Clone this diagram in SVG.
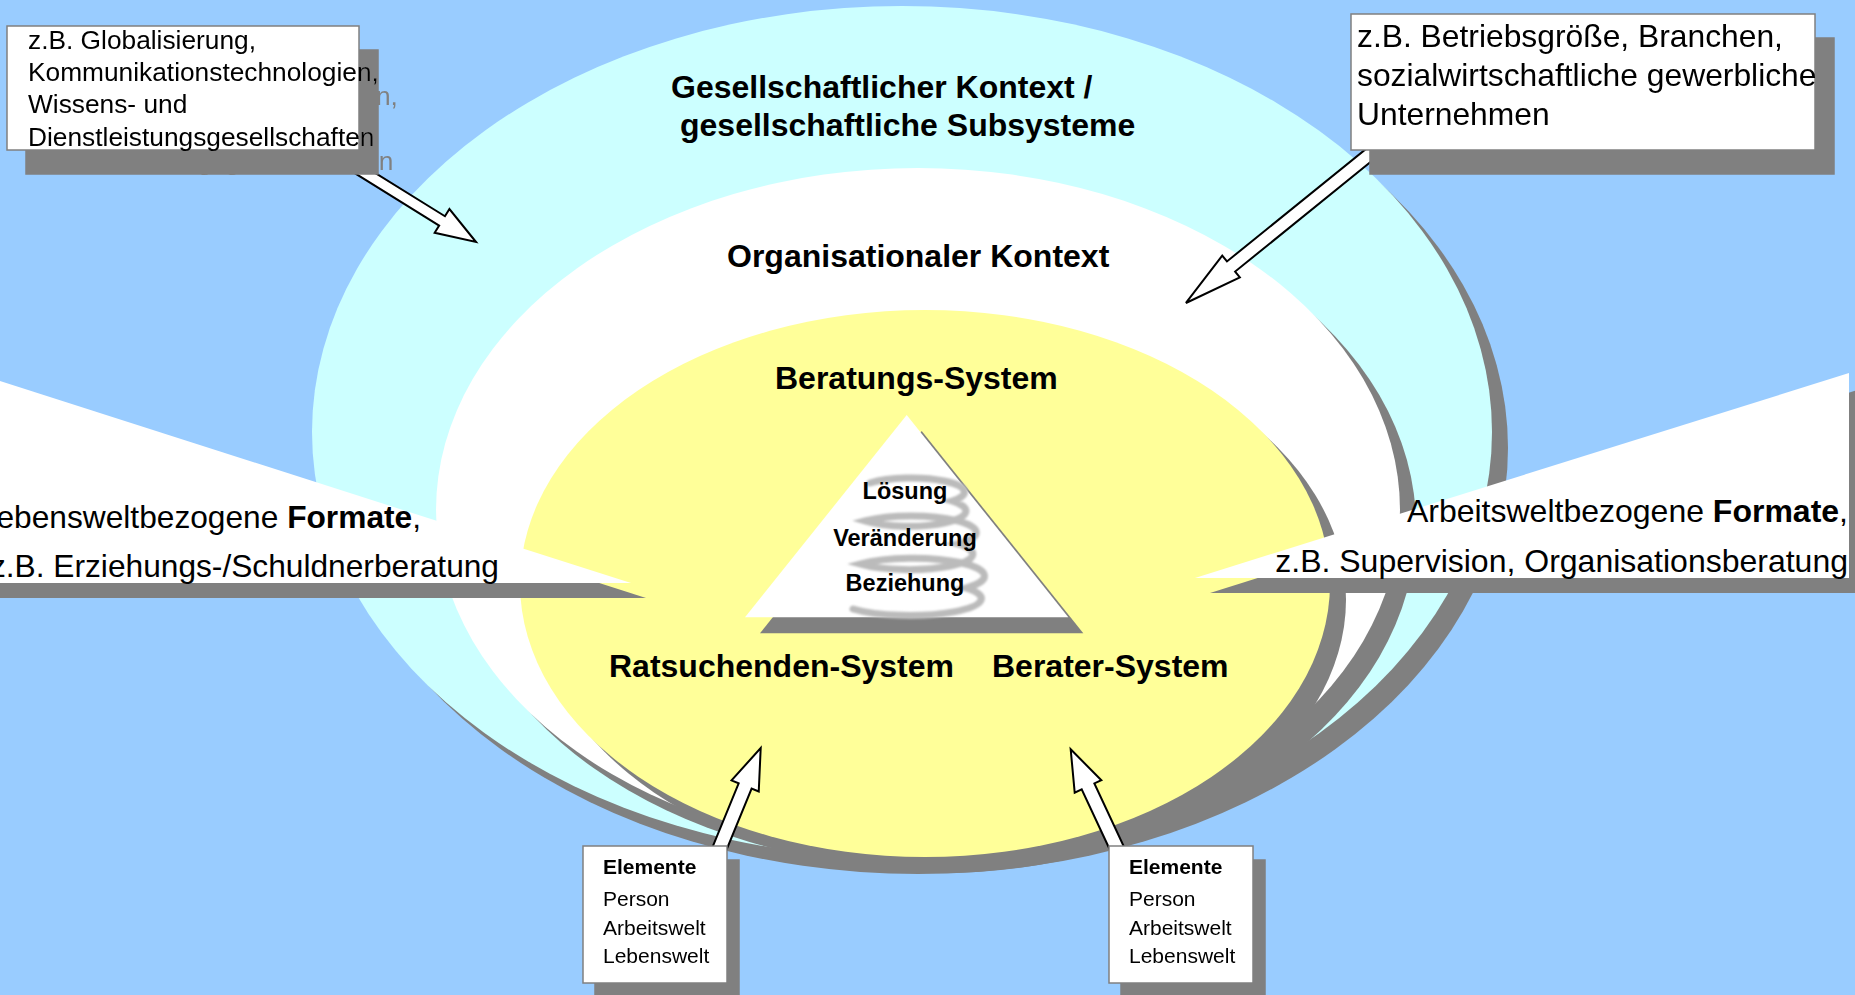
<svg xmlns="http://www.w3.org/2000/svg" width="1855" height="995" viewBox="0 0 1855 995">
<defs>
<style>
.sh{fill:#808080}
.lbl{font-family:"Liberation Sans",Arial,sans-serif;font-weight:bold;font-size:32px;fill:#000}
.tri{font-family:"Liberation Sans",Arial,sans-serif;font-weight:bold;font-size:23.5px;text-anchor:middle;fill:#000}
.call{font-family:"Liberation Sans",Arial,sans-serif;font-size:32px;fill:#000;text-anchor:end}
.callL{font-family:"Liberation Sans",Arial,sans-serif;font-size:31.7px;fill:#000;text-anchor:end}
.tl{font-family:"Liberation Sans",Arial,sans-serif;font-size:26.3px;fill:#000}
.tr{font-family:"Liberation Sans",Arial,sans-serif;font-size:31.8px;fill:#000}
.box{fill:#fff;stroke:#808080;stroke-width:1.5}
.el{font-family:"Liberation Sans",Arial,sans-serif;font-size:21px;fill:#000}
.arr{fill:#fff;stroke:#000;stroke-width:2;stroke-linejoin:miter}
</style>
<filter id="shBox" filterUnits="userSpaceOnUse" x="0" y="0" width="1855" height="995">
<feOffset in="SourceAlpha" dx="19" dy="24" result="off"/>
<feFlood flood-color="#808080"/>
<feComposite in2="off" operator="in" result="sh"/>
<feMerge><feMergeNode in="sh"/><feMergeNode in="SourceGraphic"/></feMerge>
</filter>
<filter id="shEl" filterUnits="userSpaceOnUse" x="0" y="0" width="1855" height="995">
<feOffset in="SourceAlpha" dx="12" dy="14" result="off"/>
<feFlood flood-color="#808080"/>
<feComposite in2="off" operator="in" result="sh"/>
<feMerge><feMergeNode in="sh"/><feMergeNode in="SourceGraphic"/></feMerge>
</filter>
<filter id="soft" x="-20%" y="-20%" width="140%" height="140%"><feGaussianBlur stdDeviation="1.1"/></filter>
</defs>

<rect id="background" width="1855" height="995" fill="#99CCFF"/>

<g id="gesellschaftlicher-kontext">
<ellipse class="sh" cx="918" cy="448" rx="590" ry="426"/>
<ellipse cx="902" cy="432" rx="590" ry="426" fill="#CCFFFF"/>
<text class="lbl" x="671" y="98">Gesellschaftlicher Kontext /</text>
<text class="lbl" x="680" y="136">gesellschaftliche Subsysteme</text>
</g>

<g id="organisationaler-kontext">
<ellipse class="sh" cx="934" cy="526" rx="482" ry="342"/>
<ellipse cx="918" cy="510" rx="482" ry="342" fill="#FFFFFF"/>
<text class="lbl" x="727" y="267">Organisationaler Kontext</text>
</g>

<g id="beratungs-system">
<ellipse class="sh" cx="941" cy="599.5" rx="405" ry="273.5"/>
<ellipse cx="925" cy="583.5" rx="405" ry="273.5" fill="#FFFF99"/>
<text class="lbl" x="775" y="389">Beratungs-System</text>
</g>

<g id="dreieck">
<polygon class="sh" points="921.7,431 760,633.3 1083.3,633.3"/>
<polygon points="906.7,415 745,617.3 1068.3,617.3" fill="#FFFFFF"/>
<path d="M 870,483 A 42 11 0 0 1 952,501 A 45 12 0 0 1 865,521 A 47 12 0 0 1 958,544 A 49 12 0 0 1 860,564 A 52 13 0 0 1 966,588 A 55 13 0 0 1 853,609" fill="none" stroke="#BBBBBB" stroke-width="7" stroke-linecap="round" filter="url(#soft)"/>
<text class="tri" x="905" y="499">Lösung</text>
<text class="tri" x="905" y="546">Veränderung</text>
<text class="tri" x="905" y="591">Beziehung</text>
</g>

<g id="ratsuchenden-system">
<text class="lbl" x="609" y="677">Ratsuchenden-System</text>
</g>
<g id="berater-system">
<text class="lbl" x="992" y="677">Berater-System</text>
</g>

<g id="formate-lebenswelt">
<polygon class="sh" points="-35,380 646,598 -35,598"/>
<polygon points="-50,365 631,583 -50,583" fill="#FFFFFF"/>
<text class="callL" x="421" y="528">ebensweltbezogene <tspan font-weight="bold">Formate</tspan>,</text>
<text class="callL" x="499" y="577">z.B. Erziehungs-/Schuldnerberatung</text>
</g>

<g id="formate-arbeitswelt">
<polygon class="sh" points="1864,388 1210,593 1864,593"/>
<polygon points="1849,373 1195,578 1849,578" fill="#FFFFFF"/>
<text class="call" x="1848" y="522">Arbeitsweltbezogene <tspan font-weight="bold">Formate</tspan>,</text>
<text class="call" x="1848" y="572">z.B. Supervision, Organisationsberatung</text>
</g>

<g id="connectors">
<path class="arr" transform="translate(352,165) rotate(31.84)" d="M0,-5.5 L106,-5.5 L106,-14 L146,0 L106,14 L106,5.5 L0,5.5 Z"/>
<path class="arr" transform="translate(1380,146) rotate(141.03)" d="M0,-6.5 L191.6,-6.5 L191.6,-14 L249.6,0 L191.6,14 L191.6,6.5 L0,6.5 Z"/>
<path class="arr" transform="translate(716,857) rotate(-67.7)" d="M0,-7 L76.8,-7 L76.8,-14.7 L117.8,0 L76.8,14.7 L76.8,7 L0,7 Z"/>
<path class="arr" transform="translate(1121,857) rotate(-115.04)" d="M0,-7 L77.9,-7 L77.9,-14.7 L118.9,0 L77.9,14.7 L77.9,7 L0,7 Z"/>
</g>

<g id="box-gesellschaft" filter="url(#shBox)">
<rect class="box" x="7" y="26" width="352" height="124"/>
<text class="tl" x="28" y="49">z.B. Globalisierung,</text>
<text class="tl" x="28" y="81">Kommunikationstechnologien,</text>
<text class="tl" x="28" y="113">Wissens- und</text>
<text class="tl" x="28" y="146">Dienstleistungsgesellschaften</text>
</g>

<g id="box-organisation" filter="url(#shBox)">
<rect class="box" x="1351" y="14" width="464" height="136"/>
<text class="tr" x="1357" y="47">z.B. Betriebsgröße, Branchen,</text>
<text class="tr" x="1357" y="86">sozialwirtschaftliche gewerbliche</text>
<text class="tr" x="1357" y="125">Unternehmen</text>
</g>

<g id="elemente-ratsuchende" filter="url(#shEl)">
<rect class="box" x="583" y="846" width="144" height="137"/>
<text class="el" x="603" y="874" font-weight="bold">Elemente</text>
<text class="el" x="603" y="906">Person</text>
<text class="el" x="603" y="935">Arbeitswelt</text>
<text class="el" x="603" y="963">Lebenswelt</text>
</g>

<g id="elemente-berater" filter="url(#shEl)">
<rect class="box" x="1109" y="846" width="144" height="137"/>
<text class="el" x="1129" y="874" font-weight="bold">Elemente</text>
<text class="el" x="1129" y="906">Person</text>
<text class="el" x="1129" y="935">Arbeitswelt</text>
<text class="el" x="1129" y="963">Lebenswelt</text>
</g>
</svg>
